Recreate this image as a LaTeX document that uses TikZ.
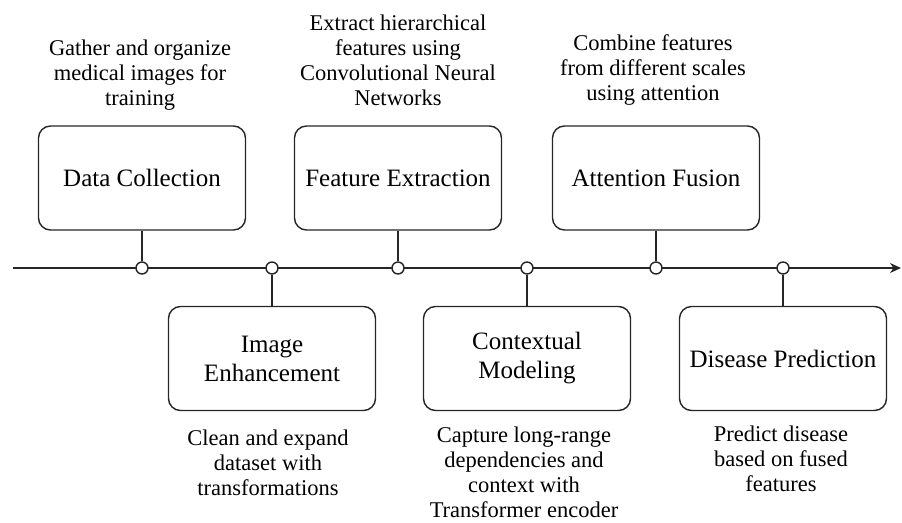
\documentclass[tikz,border=0pt]{standalone}
\usepackage{fontspec}
\setmainfont{Liberation Serif}
\usetikzlibrary{arrows.meta}
\begin{document}
\begin{tikzpicture}[x=1pt,y=-1pt,
  line/.style={draw=black!85, line width=1.4pt},
  stage/.style={line, rounded corners=12pt, minimum width=207pt, minimum height=104pt,
    align=center, inner sep=2pt, font=\fontsize{25}{29}\selectfont},
  desc/.style={align=center, inner sep=0pt, font=\fontsize{22.5}{25}\selectfont},
  knot/.style={circle, line, fill=white, minimum size=12pt, inner sep=0pt}]
\useasboundingbox (0,0) rectangle (902,522);

% timeline
\coordinate (tstart) at (13,268);
\coordinate (tend) at (901,268);
\draw[line, -{Stealth[length=11pt,width=10pt]}] (tstart) -- (tend);

% stages above the timeline
\node[stage] (dc) at (142,178) {Data Collection};
\node[stage] (fe) at (398,178) {Feature Extraction};
\node[stage] (af) at (656,178) {Attention Fusion};
% stages below the timeline
\node[stage] (ie) at (272,358.5) {Image\\Enhancement};
\node[stage] (cm) at (527,358.5) {Contextual\\Modeling};
\node[stage] (dp) at (783,358.5) {Disease Prediction};

% knots on the timeline
\node[knot] (k1) at (142,268) {};
\node[knot] (k2) at (272,268) {};
\node[knot] (k3) at (398,268) {};
\node[knot] (k4) at (527,268) {};
\node[knot] (k5) at (656,268) {};
\node[knot] (k6) at (783,268) {};

% stems
\draw[line] (dc.south) -- (k1.north);
\draw[line] (fe.south) -- (k3.north);
\draw[line] (af.south) -- (k5.north);
\draw[line] (k2.south) -- (ie.north);
\draw[line] (k4.south) -- (cm.north);
\draw[line] (k6.south) -- (dp.north);

% descriptions
\node[desc] (dcd) at (140,75) {Gather and organize\\medical images for\\training};
\node[desc] (fed) at (398,60) {Extract hierarchical\\features using\\Convolutional Neural\\Networks};
\node[desc] (afd) at (653,70) {Combine features\\from different scales\\using attention};
\node[desc] (ied) at (268,463) {Clean and expand\\dataset with\\transformations};
\node[desc] (cmd) at (524,472) {Capture long-range\\dependencies and\\context with\\Transformer encoder};
\node[desc] (dpd) at (781,459) {Predict disease\\based on fused\\features};
\end{tikzpicture}
\end{document}
